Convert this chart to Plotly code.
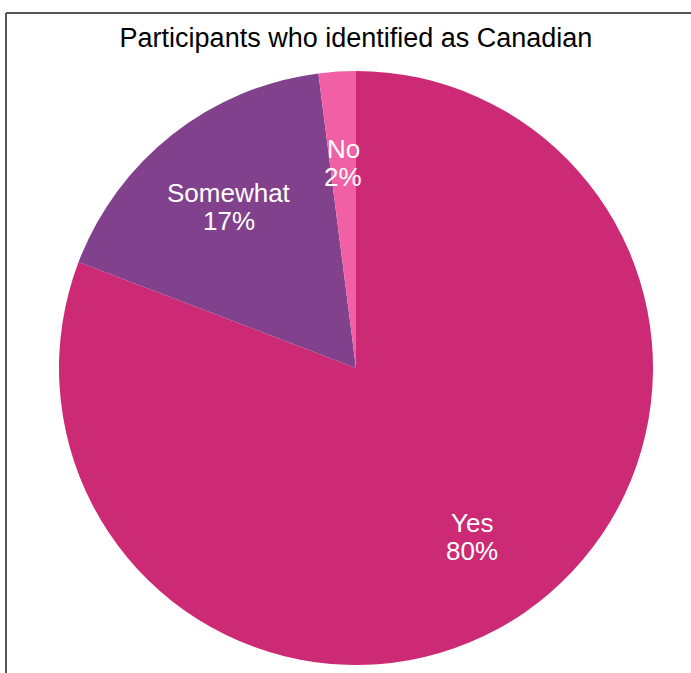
import math
import plotly.graph_objects as go

# Survey answers
labels = ["Yes", "Somewhat", "No"]
values = [80, 17, 2]
colors = ["#CD2A76", "#82418C", "#F160A4"]

W, H = 691, 673
CX, CY, R = 356, 368, 297  # pie centre (px from top-left) and radius
FONT = "Liberation Sans, Arial, sans-serif"

fig = go.Figure(
    go.Pie(
        labels=labels,
        values=values,
        sort=False,
        direction="clockwise",
        marker=dict(colors=colors, line=dict(width=0)),
        textinfo="none",
        hoverinfo="label+value",
        showlegend=False,
        domain=dict(
            x=[(CX - R) / W, (CX + R) / W],
            y=[1 - (CY + R) / H, 1 - (CY - R) / H],
        ),
    )
)

# Slice labels (name above, percentage below) along each slice's bisector
total = sum(values)
cum = 0
annotations = []
for lab, v in zip(labels, values):
    mid = (cum + v / 2) / total
    cum += v
    th = 2 * math.pi * mid
    px = CX + 0.69 * R * math.sin(th)
    py = CY - 0.69 * R * math.cos(th)
    for txt, off in ((lab, -14), (f"{v}%", 14)):
        annotations.append(
            dict(
                x=px / W,
                y=1 - (py + off) / H,
                xref="paper",
                yref="paper",
                text=txt,
                showarrow=False,
                font=dict(color="white", size=26, family=FONT),
                xanchor="center",
                yanchor="middle",
            )
        )

fig.update_layout(
    width=W,
    height=H,
    margin=dict(l=0, r=0, t=0, b=0),
    paper_bgcolor="white",
    plot_bgcolor="white",
    title=dict(
        text="Participants who identified as Canadian",
        x=356 / W,
        xanchor="center",
        y=1 - 38 / H,
        yanchor="middle",
        font=dict(size=27, color="black", family=FONT),
    ),
    annotations=annotations,
    shapes=[
        dict(type="line", xref="paper", yref="paper",
             x0=6 / W, x1=1, y0=1 - 13 / H, y1=1 - 13 / H,
             line=dict(color="#555555", width=2)),
        dict(type="line", xref="paper", yref="paper",
             x0=6 / W, x1=6 / W, y0=1 - 13 / H, y1=0,
             line=dict(color="#555555", width=2)),
    ],
)

fig.write_html("out.html")
